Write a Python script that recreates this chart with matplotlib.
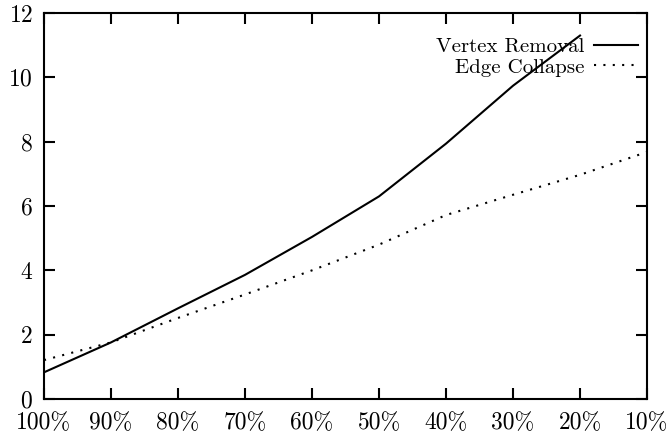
import matplotlib
matplotlib.use("Agg")
import matplotlib.pyplot as plt

# ----------------------------------------------------------------------------------
# Data
# ----------------------------------------------------------------------------------

x_labels = ['100%', '90%', '80%', '70%', '60%', '50%', '40%', '30%', '20%', '10%']

vertex_removal = [0.83, 1.76, 2.82, 3.86, 5.04, 6.30, 7.94, 9.74, 11.30]
edge_collapse = [1.21, 1.76, 2.52, 3.25, 4.00, 4.80, 5.72, 6.35, 6.97, 7.68]

# ----------------------------------------------------------------------------------
# Plot
# ----------------------------------------------------------------------------------

plt.rcParams['font.family'] = ['cmr10', 'DejaVu Serif']
plt.rcParams['axes.formatter.use_mathtext'] = True

fig = plt.figure(figsize=(6.68, 4.34), dpi=100)
ax = fig.add_axes([0.0659, 0.0806, 0.9027, 0.8894])

pos = list(range(len(x_labels)))
ax.plot(pos[:len(vertex_removal)], vertex_removal, color='black', lw=1.5,
        label='Vertex Removal')
ax.plot(pos, edge_collapse, color='black', lw=1.5, linestyle=(0, (1, 3.5)),
        label='Edge Collapse')

ax.set_xlim(0, len(x_labels) - 1)
ax.set_ylim(0, 12)
ax.set_xticks(pos)
ax.set_xticklabels(x_labels)
ax.set_yticks(range(0, 13, 2))

ax.tick_params(direction='in', length=8, width=1.5, top=True, right=True,
               labelsize=17, colors='black')
ax.tick_params(axis='x', pad=9)
ax.tick_params(axis='y', pad=8)
for s in ax.spines.values():
    s.set_linewidth(1.5)

# legend: text right aligned, sample line to the right
ax.legend(loc='upper right', bbox_to_anchor=(0.985, 0.937), markerfirst=False,
          frameon=False, fontsize=15, handlelength=2.1, handletextpad=0.47,
          borderaxespad=0, borderpad=0, labelspacing=0.1)

fig.savefig('out.png', dpi=100)
